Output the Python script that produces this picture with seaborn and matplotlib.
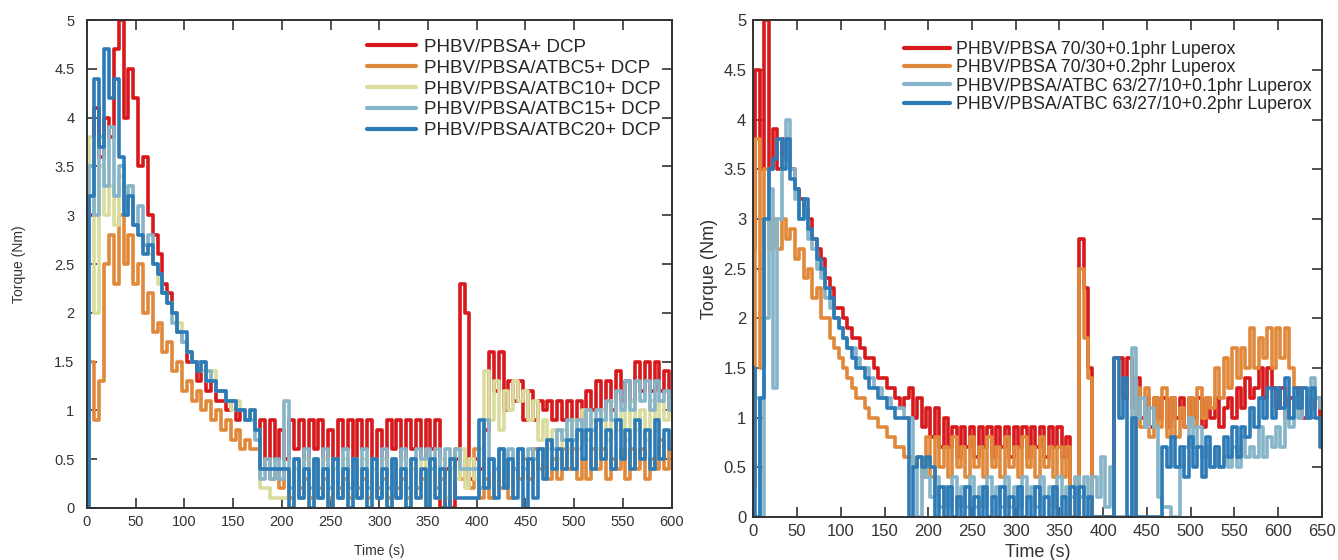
import numpy as np
import pandas as pd
import matplotlib
matplotlib.use("Agg")
import matplotlib.pyplot as plt
import seaborn as sns

# ---------------------------------------------------------------
# Data read off the reference (torque in Nm, sampled every 5 s)
# ---------------------------------------------------------------
STEP = 5

left_labels = ["PHBV/PBSA+ DCP", "PHBV/PBSA/ATBC5+ DCP", "PHBV/PBSA/ATBC10+ DCP",
               "PHBV/PBSA/ATBC15+ DCP", "PHBV/PBSA/ATBC20+ DCP"]
left_colors = ["#d7191c", "#e0893a", "#d9dc9c", "#86b4c8", "#2c7bb6"]

left_dcp = [
    0.0, 3.0, 4.1, 3.6, 4.0, 3.8, 4.7, 5.0, 4.0, 4.5,
    4.2, 3.5, 3.6, 3.0, 2.8, 2.6, 2.3, 2.2, 2.0, 1.8,
    1.7, 1.5, 1.5, 1.3, 1.4, 1.2, 1.3, 1.1, 1.1, 1.0,
    1.1, 0.9, 1.0, 0.9, 1.0, 0.8, 0.9, 0.5, 0.9, 0.5,
    0.8, 0.5, 0.9, 0.6, 0.9, 0.5, 0.9, 0.6, 0.9, 0.5,
    0.8, 0.5, 0.9, 0.6, 0.9, 0.5, 0.9, 0.6, 0.9, 0.5,
    0.8, 0.5, 0.9, 0.6, 0.9, 0.5, 0.9, 0.6, 0.9, 0.5,
    0.9, 0.6, 0.9, 0.0, 0.4, 0.0, 0.5, 2.3, 2.0, 0.3,
    0.5, 0.4, 0.8, 1.6, 1.2, 1.6, 1.0, 1.3, 1.1, 1.3,
    0.9, 1.2, 0.9, 1.1, 1.0, 1.1, 0.9, 1.1, 0.9, 1.1,
    0.9, 1.1, 0.9, 1.2, 1.0, 1.3, 1.0, 1.3, 1.0, 1.4,
    1.1, 1.3, 1.1, 1.5, 1.2, 1.5, 1.2, 1.5, 1.2, 1.4,
    1.0]
left_atbc5 = [
    0.0, 1.5, 0.9, 1.3, 2.5, 2.8, 2.3, 3.0, 2.5, 2.8,
    2.3, 2.5, 2.0, 2.2, 1.8, 1.9, 1.6, 1.7, 1.4, 1.5,
    1.2, 1.3, 1.1, 1.2, 1.0, 1.1, 0.9, 1.0, 0.8, 0.9,
    0.7, 0.8, 0.6, 0.7, 0.6, 0.6, 0.4, 0.5, 0.3, 0.4,
    0.2, 0.4, 0.1, 0.4, 0.2, 0.3, 0.1, 0.4, 0.2, 0.3,
    0.1, 0.4, 0.2, 0.3, 0.1, 0.4, 0.2, 0.3, 0.1, 0.4,
    0.2, 0.3, 0.1, 0.4, 0.2, 0.3, 0.1, 0.4, 0.2, 0.3,
    0.1, 0.4, 0.2, 0.3, 0.1, 0.4, 0.6, 0.3, 0.5, 0.2,
    0.6, 0.1, 0.3, 0.1, 0.4, 0.2, 0.5, 0.1, 0.4, 0.3,
    0.5, 0.3, 0.6, 0.4, 0.6, 0.3, 0.5, 0.3, 0.6, 0.4,
    0.6, 0.3, 0.5, 0.3, 0.6, 0.4, 0.6, 0.3, 0.5, 0.4,
    0.6, 0.3, 0.6, 0.4, 0.6, 0.3, 0.5, 0.4, 0.7, 0.4,
    0.6]
left_atbc10 = [
    0.0, 3.8, 2.0, 3.5, 3.0, 3.3, 2.9, 3.4, 3.1, 3.3,
    2.9, 2.8, 2.7, 2.6, 2.5, 2.3, 2.2, 2.1, 2.0, 1.9,
    1.7, 1.6, 1.5, 1.5, 1.4, 1.3, 1.4, 1.2, 1.2, 1.1,
    1.0, 1.1, 1.0, 0.9, 1.0, 0.8, 0.2, 0.2, 0.1, 0.1,
    0.1, 0.1, 0.0, 0.4, 0.1, 0.5, 0.0, 0.4, 0.1, 0.5,
    0.0, 0.4, 0.1, 0.5, 0.0, 0.4, 0.1, 0.5, 0.0, 0.4,
    0.1, 0.5, 0.0, 0.4, 0.1, 0.5, 0.0, 0.4, 0.1, 0.5,
    0.0, 0.4, 0.1, 0.5, 0.1, 0.4, 0.3, 0.6, 0.2, 0.5,
    0.3, 0.6, 1.4, 0.9, 1.3, 0.8, 1.2, 1.0, 1.3, 1.1,
    1.2, 0.9, 1.1, 0.7, 0.9, 0.6, 0.8, 0.5, 0.8, 0.6,
    0.9, 0.6, 1.0, 0.7, 0.9, 0.6, 1.0, 0.7, 1.1, 0.8,
    1.0, 0.7, 1.1, 0.8, 1.0, 0.7, 1.1, 0.8, 1.1, 0.9,
    1.1]
left_atbc15 = [
    0.0, 3.5, 3.0, 3.8, 3.3, 3.9, 3.2, 3.5, 3.0, 3.3,
    2.9, 3.1, 2.7, 2.8, 2.5, 2.4, 2.2, 2.1, 1.9, 1.8,
    1.7, 1.6, 1.5, 1.5, 1.5, 1.4, 1.3, 1.2, 1.2, 1.1,
    1.1, 1.0, 1.0, 0.9, 0.9, 0.7, 0.3, 0.5, 0.3, 0.5,
    0.3, 1.1, 0.2, 0.5, 0.1, 0.6, 0.2, 0.5, 0.1, 0.6,
    0.2, 0.5, 0.1, 0.6, 0.2, 0.5, 0.1, 0.6, 0.2, 0.5,
    0.1, 0.6, 0.2, 0.5, 0.1, 0.6, 0.2, 0.5, 0.6, 0.5,
    0.6, 0.4, 0.6, 0.4, 0.6, 0.5, 0.6, 0.4, 0.4, 0.4,
    0.4, 0.2, 0.9, 0.5, 0.4, 0.6, 0.4, 0.6, 0.4, 0.6,
    0.4, 0.6, 0.5, 0.6, 0.5, 0.7, 0.6, 0.8, 0.7, 0.9,
    0.7, 0.9, 0.8, 1.0, 0.8, 1.0, 0.9, 1.1, 0.9, 1.2,
    1.0, 1.3, 1.0, 1.3, 1.1, 1.3, 1.0, 1.3, 1.1, 1.2,
    1.0]
left_atbc20 = [
    0.0, 3.2, 4.4, 3.7, 4.7, 4.2, 4.4, 3.6, 3.0, 3.2,
    2.9, 2.8, 2.6, 2.7, 2.5, 2.4, 2.2, 2.1, 2.0, 1.8,
    1.8, 1.6, 1.5, 1.4, 1.5, 1.3, 1.3, 1.2, 1.2, 1.1,
    1.1, 1.0, 1.0, 0.9, 1.0, 0.8, 0.4, 0.4, 0.4, 0.4,
    0.4, 0.4, 0.0, 0.5, 0.1, 0.4, 0.0, 0.5, 0.1, 0.4,
    0.0, 0.5, 0.1, 0.4, 0.0, 0.5, 0.1, 0.4, 0.0, 0.5,
    0.1, 0.4, 0.0, 0.5, 0.1, 0.4, 0.0, 0.5, 0.1, 0.4,
    0.0, 0.5, 0.1, 0.4, 0.0, 0.5, 0.1, 0.1, 0.1, 0.1,
    0.1, 0.9, 0.2, 0.5, 0.1, 0.6, 0.2, 0.5, 0.1, 0.6,
    0.0, 0.5, 0.1, 0.6, 0.3, 0.7, 0.4, 0.6, 0.4, 0.7,
    0.4, 0.8, 0.5, 0.8, 0.4, 0.9, 0.5, 0.8, 0.4, 0.9,
    0.5, 0.8, 0.4, 0.9, 0.5, 0.8, 0.4, 0.9, 0.5, 0.8,
    0.6]

right_labels = ["PHBV/PBSA 70/30+0.1phr Luperox", "PHBV/PBSA 70/30+0.2phr Luperox",
                "PHBV/PBSA/ATBC 63/27/10+0.1phr Luperox", "PHBV/PBSA/ATBC 63/27/10+0.2phr Luperox"]
right_colors = ["#d7191c", "#e0893a", "#86b4c8", "#2c7bb6"]

right_pbsa_01 = [
    2.7, 4.5, 3.5, 5.0, 3.5, 3.9, 3.5, 3.8, 3.6, 3.5,
    3.3, 3.2, 3.1, 3.0, 2.8, 2.7, 2.6, 2.4, 2.3, 2.1,
    2.1, 2.0, 1.9, 1.8, 1.8, 1.7, 1.6, 1.6, 1.5, 1.4,
    1.4, 1.3, 1.3, 1.2, 1.1, 1.2, 1.3, 1.0, 1.2, 0.9,
    1.1, 0.8, 1.1, 0.7, 1.0, 0.7, 0.9, 0.6, 0.9, 0.7,
    0.9, 0.6, 0.9, 0.7, 0.9, 0.6, 0.9, 0.7, 0.9, 0.6,
    0.9, 0.7, 0.9, 0.6, 0.9, 0.7, 0.9, 0.6, 0.9, 0.7,
    0.9, 0.6, 0.8, 0.0, 0.0, 2.8, 2.3, 1.5, 0.0, 0.0,
    0.0, 0.0, 0.0, 1.6, 1.6, 1.2, 1.6, 1.1, 1.4, 1.0,
    1.2, 0.9, 1.2, 1.0, 1.2, 0.9, 1.2, 1.0, 1.2, 0.9,
    1.2, 1.0, 1.2, 0.9, 1.2, 1.0, 1.2, 0.9, 1.1, 1.2,
    1.0, 1.3, 1.1, 1.4, 1.2, 1.3, 1.5, 1.2, 1.5, 1.3,
    1.1, 1.3, 1.0, 1.2, 1.1, 1.3, 1.0, 1.2, 1.1, 1.2,
    1.0]
right_pbsa_02 = [
    0.3, 3.8, 1.5, 3.5, 2.7, 3.0, 2.7, 3.0, 2.8, 2.9,
    2.6, 2.7, 2.4, 2.5, 2.2, 2.3, 2.0, 2.0, 1.8, 1.7,
    1.6, 1.5, 1.4, 1.3, 1.2, 1.2, 1.1, 1.0, 1.0, 0.9,
    0.9, 0.8, 0.8, 0.7, 0.7, 0.6, 0.6, 0.5, 0.6, 0.4,
    0.8, 0.4, 0.8, 0.5, 0.7, 0.4, 0.8, 0.5, 0.7, 0.4,
    0.8, 0.5, 0.7, 0.4, 0.8, 0.5, 0.7, 0.4, 0.8, 0.5,
    0.7, 0.4, 0.8, 0.5, 0.7, 0.4, 0.8, 0.5, 0.7, 0.4,
    0.7, 0.4, 0.7, 0.0, 0.0, 2.5, 1.8, 1.4, 0.0, 0.0,
    0.0, 0.0, 0.0, 0.0, 0.0, 0.0, 0.0, 0.0, 1.3, 0.9,
    1.3, 0.8, 1.2, 0.9, 1.3, 0.8, 1.2, 0.8, 1.1, 0.9,
    1.2, 0.9, 1.3, 1.0, 1.2, 1.1, 1.5, 1.2, 1.6, 1.3,
    1.7, 1.4, 1.7, 1.5, 1.9, 1.5, 1.8, 1.6, 1.9, 1.5,
    1.9, 1.6, 1.9, 1.5, 1.3, np.nan, np.nan, np.nan, np.nan, np.nan,
    np.nan]
right_atbc_01 = [
    1.5, 1.2, 0.0, 2.0, 3.3, 1.3, 3.0, 3.6, 4.0, 3.5,
    3.2, 3.0, 3.1, 2.8, 2.7, 2.5, 2.4, 2.2, 2.1, 2.0,
    1.9, 1.8, 1.7, 1.7, 1.6, 1.5, 1.5, 1.4, 1.3, 1.3,
    1.2, 1.2, 1.1, 1.1, 1.1, 1.0, 1.0, 0.5, 0.0, 0.5,
    0.4, 0.2, 0.4, 0.1, 0.3, 0.1, 0.4, 0.1, 0.3, 0.1,
    0.4, 0.1, 0.3, 0.1, 0.4, 0.2, 0.3, 0.1, 0.4, 0.1,
    0.3, 0.1, 0.4, 0.2, 0.3, 0.1, 0.4, 0.2, 0.3, 0.1,
    0.4, 0.2, 0.3, 0.2, 0.4, 0.2, 0.4, 0.2, 0.4, 0.2,
    0.6, 0.1, 0.5, 0.0, 0.0, 0.0, 0.0, 1.7, 1.0, 1.2,
    0.9, 1.1, 0.9, 0.2, 0.1, 0.1, 0.0, 0.0, 0.5, 0.7,
    1.0, 0.7, 0.9, 0.6, 0.7, 0.5, 0.7, 0.5, 0.6, 0.5,
    0.7, 0.5, 0.8, 0.6, 0.7, 0.6, 0.9, 0.6, 0.8, 0.7,
    0.9, 0.7, 1.1, 0.9, 1.2, 1.0, 1.3, 1.0, 1.4, 1.2,
    1.1]
right_atbc_02 = [
    1.5, 0.0, 1.2, 3.0, 3.5, 3.6, 3.8, 3.5, 3.8, 3.4,
    3.3, 3.0, 3.2, 2.9, 2.8, 2.6, 2.5, 2.3, 2.2, 2.0,
    1.9, 1.8, 1.7, 1.6, 1.5, 1.5, 1.4, 1.3, 1.3, 1.2,
    1.2, 1.1, 1.1, 1.0, 1.0, 1.0, 0.0, 0.5, 0.6, 0.5,
    0.6, 0.5, 0.0, 0.3, 0.0, 0.3, 0.0, 0.2, 0.0, 0.3,
    0.0, 0.2, 0.0, 0.3, 0.0, 0.2, 0.0, 0.3, 0.0, 0.2,
    0.0, 0.3, 0.0, 0.2, 0.0, 0.3, 0.0, 0.2, 0.0, 0.3,
    0.0, 0.2, 0.0, 0.3, 0.0, 0.3, 0.0, 0.2, 0.0, 0.0,
    0.0, 0.0, 0.0, 1.6, 1.0, 1.4, 0.0, 1.0, 0.0, 0.0,
    0.0, 0.0, 0.0, 0.0, 0.7, 0.5, 0.8, 0.5, 0.7, 0.4,
    0.8, 0.5, 0.7, 0.4, 0.8, 0.5, 0.7, 0.5, 0.8, 0.6,
    0.9, 0.6, 0.9, 0.8, 1.1, 0.9, 1.2, 1.0, 1.3, 1.0,
    1.3, 1.1, 1.4, 1.0, 1.3, 1.1, 1.3, 1.0, 1.3, 1.0,
    0.7]

left_series = [left_dcp, left_atbc5, left_atbc10, left_atbc15, left_atbc20]
right_series = [right_pbsa_01, right_pbsa_02, right_atbc_01, right_atbc_02]


def to_long(labels, series):
    frames = []
    for name, vals in zip(labels, series):
        frames.append(pd.DataFrame({
            "Time": np.arange(len(vals)) * STEP,
            "Torque": vals,
            "Sample": name,
        }))
    return pd.concat(frames, ignore_index=True).dropna()


sns.set_theme(style="ticks")
plt.rcParams["font.family"] = ["Liberation Sans", "DejaVu Sans"]

fig = plt.figure(figsize=(13.38, 5.6), dpi=100)
ax_l = fig.add_axes([0.065, 0.093, 0.437, 0.871])
ax_r = fig.add_axes([0.563, 0.077, 0.425, 0.887])


def style_axes(ax, xmax, tick_size, label_size, xpad, ypad, ytick_pad):
    ax.set_xlim(0, xmax)
    ax.set_ylim(0, 5)
    ax.set_xticks(np.arange(0, xmax + 1, 50))
    ax.set_yticks(np.arange(0, 5.01, 0.5))
    ax.set_yticklabels([f"{v:g}" for v in np.arange(0, 5.01, 0.5)])
    ax.tick_params(direction="in", top=True, right=True, length=7, width=1.2,
                   labelsize=tick_size, colors="#333333", pad=5)
    ax.tick_params(axis="y", pad=ytick_pad)
    for sp in ax.spines.values():
        sp.set_linewidth(1.4)
        sp.set_color("#333333")
    ax.set_xlabel("Time (s)", fontsize=label_size, color="#333333", labelpad=xpad)
    ax.set_ylabel("Torque (Nm)", fontsize=label_size, color="#333333", labelpad=ypad)


# square-tooth bands like the torque logger output
line_kw = dict(estimator=None, sort=False, linewidth=2.6, drawstyle="steps-mid")

df_l = to_long(left_labels, left_series)
sns.lineplot(data=df_l, x="Time", y="Torque", hue="Sample", hue_order=left_labels,
             palette=left_colors, ax=ax_l, **line_kw)
style_axes(ax_l, 600, 10.5, 10, 11, 20, 9)
ax_l.legend(loc="upper right", bbox_to_anchor=(1.0, 0.985), frameon=False, fontsize=13.5,
            handlelength=2.6, handletextpad=0.4, labelspacing=0.2, borderaxespad=0.2)
for line in ax_l.get_legend().get_lines():
    line.set_linewidth(3)

df_r = to_long(right_labels, right_series)
sns.lineplot(data=df_r, x="Time", y="Torque", hue="Sample", hue_order=right_labels,
             palette=right_colors, ax=ax_r, **line_kw)
style_axes(ax_r, 650, 12, 13, 4, 4, 5)
ax_r.legend(loc="upper right", bbox_to_anchor=(1.0, 0.98), frameon=False, fontsize=12.8,
            handlelength=2.6, handletextpad=0.3, labelspacing=0.08, borderaxespad=0.2)
for line in ax_r.get_legend().get_lines():
    line.set_linewidth(3)

fig.savefig("out.png", dpi=100)
